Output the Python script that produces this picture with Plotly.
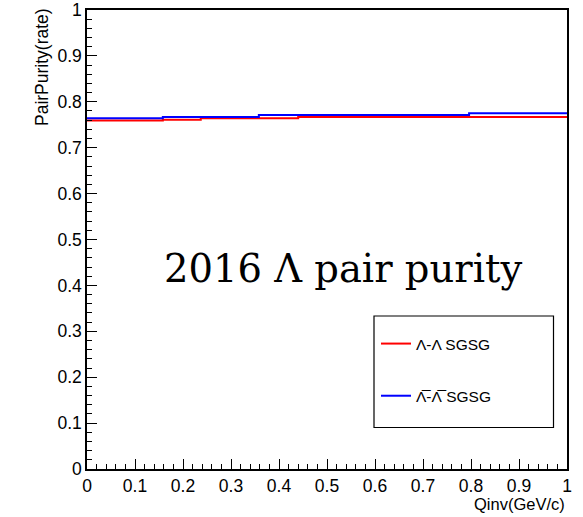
import plotly.graph_objects as go

# Data
lam_edges = [0.0, 0.158, 0.237, 0.44, 1.0]
lam_values = [0.759, 0.761, 0.764, 0.767]
alam_edges = [0.0, 0.158, 0.358, 0.796, 1.0]
alam_values = [0.764, 0.767, 0.771, 0.775]
tick_vals = [i / 10 for i in range(11)]
tick_text = ["0", "0.1", "0.2", "0.3", "0.4", "0.5", "0.6", "0.7", "0.8", "0.9", "1"]

W, H = 583, 517
# plot area in page pixels
PX0, PX1, PY0, PY1 = 87, 567, 10, 469
L, R, T, B = PX0, W - PX1, PY0, H - PY1
pw = PX1 - PX0
ph = PY1 - PY0

def px2paper_x(px):
    return (px - PX0) / pw

def px2paper_y(py):
    return (PY1 - py) / ph

fig = go.Figure()
fig.add_trace(go.Scatter(
    x=lam_edges, y=lam_values + [lam_values[-1]],
    mode="lines", line=dict(color="#ff0000", width=2, shape="hv"),
    name="Λ-Λ SGSG", legendgroup="a"))
fig.add_trace(go.Scatter(
    x=alam_edges, y=alam_values + [alam_values[-1]],
    mode="lines", line=dict(color="#0000ff", width=2, shape="hv"),
    name="Λ\u0305-Λ\u0305 SGSG", legendgroup="b"))

axis_common = dict(
    showline=True, linecolor="black", linewidth=1.5, mirror=True,
    ticks="inside", ticklen=10, tickcolor="black", tickwidth=1.2,
    showgrid=False, zeroline=False, automargin=False,
    ticklabeloverflow="allow",
    tickvals=tick_vals, ticktext=tick_text,
    tickfont=dict(family="Liberation Sans, Arial", size=17.5, color="black"),
    minor=dict(ticks="inside", ticklen=5, tickcolor="black", dtick=0.02, showgrid=False),
)

fig.update_xaxes(range=[0, 1], **axis_common)
fig.update_yaxes(range=[0, 1], ticklabelstandoff=0, **axis_common)

# legend box
fig.add_shape(type="rect", xref="paper", yref="paper",
              x0=px2paper_x(374), x1=px2paper_x(553.5),
              y0=px2paper_y(427.5), y1=px2paper_y(316),
              line=dict(color="black", width=1.2), fillcolor="white", layer="above")

fig.update_layout(
    width=W, height=H,
    margin=dict(l=L, r=R, t=T, b=B),
    paper_bgcolor="white", plot_bgcolor="white",
    showlegend=True,
    legend=dict(x=px2paper_x(376), y=px2paper_y(327), xanchor="left", yanchor="top",
                bgcolor="rgba(0,0,0,0)", borderwidth=0,
                font=dict(family="Liberation Sans, Arial", size=15.5, color="black"),
                tracegroupgap=29, itemwidth=30),
    annotations=[
        dict(text="2016 Λ pair purity", xref="paper", yref="paper",
             x=px2paper_x(162), y=px2paper_y(268), xanchor="left", yanchor="middle",
             showarrow=False,
             font=dict(family="DejaVu Serif", size=38.5, color="black")),
        dict(text="PairPurity(rate)", xref="paper", yref="paper",
             x=px2paper_x(42), y=px2paper_y(6), xanchor="center", yanchor="top",
             textangle=-90, showarrow=False,
             font=dict(family="Liberation Sans, Arial", size=17.5, color="black")),
        dict(text="Qinv(GeV/c)", xref="paper", yref="paper",
             x=1.0, y=px2paper_y(493), xanchor="right", yanchor="top",
             showarrow=False,
             font=dict(family="Liberation Sans, Arial", size=16.5, color="black")),
    ],
)

fig.write_html("out.html", config={"displayModeBar": False},
               post_script="document.body.style.margin='0';")
